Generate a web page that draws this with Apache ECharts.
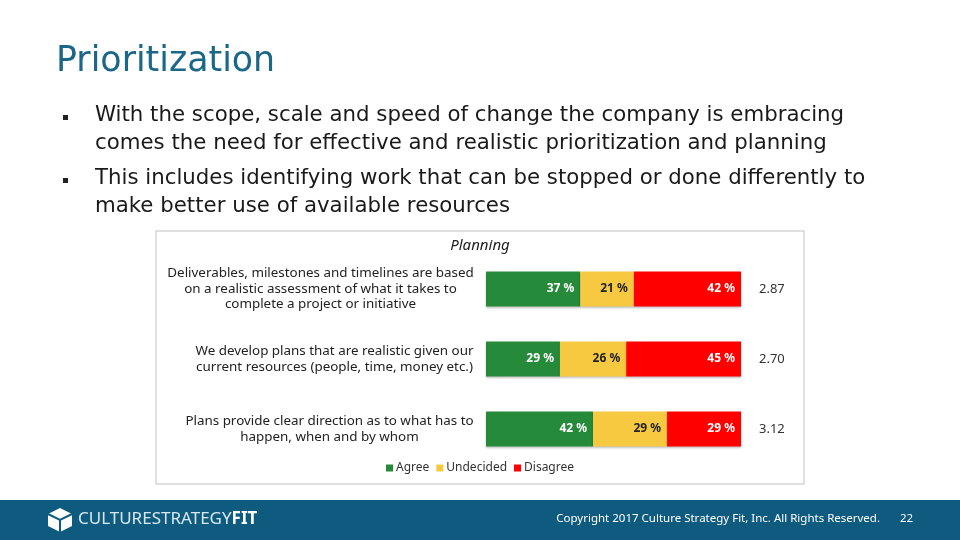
<!DOCTYPE html>
<html>
<head>
<meta charset="utf-8">
<script src="https://cdn.jsdelivr.net/npm/echarts@6/dist/echarts.min.js"></script>
<style>
  html, body { margin: 0; padding: 0; background: #fff; }
  #slide { width: 960px; height: 540px; }
</style>
</head>
<body>
<div id="slide"></div>
<script>
// survey statements (top to bottom)
var statements = [
    'Deliverables, milestones and timelines are based\non a realistic assessment of what it takes to\ncomplete a project or initiative',
    'We develop plans that are realistic given our\ncurrent resources (people, time, money etc.)',
    'Plans provide clear direction as to what has to\nhappen, when and by whom'
];
var agree = [37, 29, 42];
var undecided = [21, 26, 29];
var disagree = [42, 45, 29];
var scores = ['2.87', '2.70', '3.12'];

var bullets = [
    ['With the scope, scale and speed of change the company is embracing',
     'comes the need for effective and realistic prioritization and planning'],
    ['This includes identifying work that can be stopped or done differently to',
     'make better use of available resources']
];

var slideFont = '"DejaVu Sans", sans-serif';
var chartFont = '"Noto Sans", sans-serif';
var labelSize = 13.4;

// widest line of each statement, so the lines can be centred inside a right-aligned block
var ctx = document.createElement('canvas').getContext('2d');
ctx.font = labelSize + 'px ' + chartFont;
function blockWidth(s) {
    return Math.ceil(Math.max.apply(null, s.split('\n').map(function (l) { return ctx.measureText(l).width; })));
}

// slide decoration: title, bullets, chart frame, footer
var graphics = [
    {type: 'text', left: 56, top: 44, style: {text: 'Prioritization', fill: '#1b6788', font: '34.8px ' + slideFont}},
    {type: 'rect', shape: {x: 156, y: 231, width: 648, height: 253}, style: {fill: 'none', stroke: '#bfbfbf', lineWidth: 1}},
    {type: 'text', left: 'center', top: 238, style: {text: 'Planning', fill: '#222', font: 'italic 15px ' + chartFont}},
    {type: 'rect', shape: {x: 0, y: 500, width: 960, height: 40}, style: {fill: '#0f5b80'}},
    {type: 'polygon', shape: {points: [[60, 508], [72, 514], [72, 526], [60, 532], [48, 526], [48, 514]]}, style: {fill: '#ffffff'}},
    {type: 'polyline', shape: {points: [[48, 514], [60, 520], [72, 514]]}, style: {stroke: '#0f5b80', lineWidth: 2, fill: 'none'}},
    {type: 'line', shape: {x1: 60, y1: 520, x2: 60, y2: 532}, style: {stroke: '#0f5b80', lineWidth: 2}},
    {type: 'text', left: 78, top: 511, style: {
        text: '{l|CULTURESTRATEGY}{b|FIT}',
        rich: {
            l: {fill: '#d8e8f0', font: '17px "Noto Sans", sans-serif'},
            b: {fill: '#ffffff', font: 'bold 17px "Noto Sans", sans-serif'}
        }
    }},
    {type: 'text', right: 80, top: 513, style: {text: 'Copyright 2017 Culture Strategy Fit, Inc. All Rights Reserved.', fill: '#fff', font: '11.5px "Noto Sans", sans-serif'}},
    {type: 'text', left: 900, top: 513, style: {text: '22', fill: '#fff', font: '11.5px "Noto Sans", sans-serif'}}
];
var lineTop = 105;
bullets.forEach(function (b) {
    graphics.push({type: 'rect', shape: {x: 63, y: lineTop + 10, width: 5, height: 5}, style: {fill: '#222'}});
    b.forEach(function (line) {
        graphics.push({type: 'text', left: 95, top: lineTop, style: {text: line, fill: '#1a1a1a', font: '21.3px ' + slideFont}});
        lineTop += 28;
    });
    lineTop += 7;
});

function seg(name, data, color, labelColor) {
    return {
        name: name,
        type: 'bar',
        stack: 'total',
        data: data,
        barWidth: 35,
        itemStyle: {color: color, shadowColor: 'rgba(0,0,0,0.25)', shadowBlur: 2, shadowOffsetY: 1},
        label: {
            show: true,
            position: 'insideRight',
            formatter: '{c} %',
            color: labelColor,
            fontWeight: 'bold',
            fontSize: 12,
            fontFamily: chartFont,
            distance: 6
        }
    };
}

// give each statement its own centred line box
var richStyles = {};
statements.forEach(function (s, i) {
    richStyles['s' + i] = {width: blockWidth(s), align: 'center', color: '#222', fontSize: labelSize, fontFamily: chartFont, lineHeight: 15.5};
});

var chart = echarts.init(document.getElementById('slide'));
chart.setOption({
    animation: false,
    color: ['#258a39', '#f7c940', '#ff0000'],
    graphic: graphics,
    legend: {
        bottom: 61,
        left: 'center',
        itemWidth: 7,
        itemHeight: 7,
        itemGap: 7,
        icon: 'rect',
        textStyle: {fontSize: 12, color: '#333', fontFamily: chartFont, padding: [0, 0, 0, -2]},
        data: ['Agree', 'Undecided', 'Disagree']
    },
    grid: {left: 486, right: 219, top: 254, bottom: 76},
    xAxis: {
        type: 'value',
        min: 0,
        max: 100,
        show: false
    },
    yAxis: [
        {
            type: 'category',
            inverse: true,
            data: statements,
            axisLine: {show: false},
            axisTick: {show: false},
            axisLabel: {
                margin: 12,
                align: 'right',
                formatter: function (v) {
                    var k = 's' + statements.indexOf(v);
                    return '{' + k + '|' + v.split('\n').join('}\n{' + k + '|') + '}';
                },
                rich: richStyles,
                color: '#222',
                fontSize: labelSize,
                fontFamily: chartFont,
                lineHeight: 15.5
            }
        },
        {
            type: 'category',
            inverse: true,
            position: 'right',
            data: scores,
            axisLine: {show: false},
            axisTick: {show: false},
            axisLabel: {color: '#333', fontSize: 13, fontFamily: chartFont, margin: 18, align: 'left'}
        }
    ],
    series: [
        seg('Agree', agree, '#258a39', '#fff'),
        seg('Undecided', undecided, '#f7c940', '#222'),
        seg('Disagree', disagree, '#ff0000', '#fff')
    ]
});
</script>
</body>
</html>
